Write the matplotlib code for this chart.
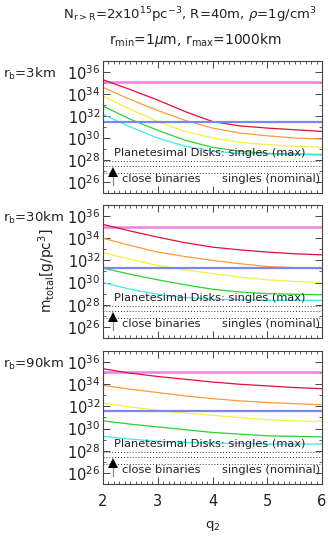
import numpy as np
import matplotlib
matplotlib.use("Agg")
import matplotlib.pyplot as plt
from matplotlib.ticker import MultipleLocator, FixedLocator, NullFormatter

# q2 sample points
q2 = [2.0, 2.5, 3.0, 3.5, 4.0, 4.5, 5.0, 5.5, 6.0]

# log10 of m_total for each panel (rb = 3, 30, 90 km)
panel_names = [r'r$_{\rm b}$=3km', r'r$_{\rm b}$=30km', r'r$_{\rm b}$=90km']

red = [
    [35.3, 34.4, 33.45, 32.4, 31.5, 31.1, 30.9, 30.75, 30.6],
    [35.25, 34.65, 34.1, 33.6, 33.2, 32.95, 32.75, 32.6, 32.5],
    [35.4, 35.0, 34.7, 34.45, 34.2, 34.0, 33.85, 33.7, 33.6],
]
orange = [
    [34.6, 33.5, 32.5, 31.6, 30.9, 30.45, 30.2, 30.0, 29.9],
    [34.0, 33.35, 32.75, 32.35, 32.0, 31.7, 31.45, 31.35, 31.25],
    [33.9, 33.55, 33.25, 32.95, 32.7, 32.5, 32.35, 32.25, 32.15],
]
yellow = [
    [33.8, 32.6, 31.5, 30.6, 30.0, 29.6, 29.4, 29.25, 29.15],
    [32.7, 32.1, 31.55, 31.15, 30.8, 30.5, 30.25, 30.1, 30.0],
    [32.3, 31.95, 31.65, 31.4, 31.2, 31.0, 30.8, 30.7, 30.65],
]
green = [
    [32.9, 31.7, 30.7, 29.8, 29.15, 28.8, 28.6, 28.55, 28.5],
    [31.3, 30.75, 30.25, 29.8, 29.4, 29.15, 29.0, 28.95, 28.9],
    [30.7, 30.4, 30.15, 29.9, 29.65, 29.5, 29.35, 29.3, 29.25],
]
cyan = [
    [32.15, 31.0, 30.0, 29.25, 28.8, 28.6, 28.55, 28.5, 28.45],
    [30.0, 29.4, 28.95, 28.65, 28.5, 28.45, 28.4, 28.4, 28.4],
    [29.3, 29.05, 28.85, 28.75, 28.7, 28.65, 28.6, 28.6, 28.6],
]
pink_level = [35.1, 35.03, 35.1]
blue_level = [31.45, 31.35, 31.6]

# dotted reference levels and annotations (log10)
dotted_levels = [27.9, 27.45, 26.8]
max_text_y = 28.65
nominal_text_y = 26.25
arrow_x = 2.19
arrow_tail = 25.7
arrow_head = 26.9

curve_colors = ['#e0103a', '#ff9a40', '#f4f040', '#30d030', '#40e8e8']

fig = plt.figure(figsize=(3.28, 5.41), dpi=100)
left, width = 103 / 328, 219 / 328
tops = [61, 205, 351]
bots = [193, 338, 484]

for i in range(3):
    ax = fig.add_axes([left, 1 - bots[i] / 541, width, (bots[i] - tops[i]) / 541])
    ax.set_yscale('log')
    ax.set_xlim(2, 6)
    ax.set_ylim(1e25, 1e37)

    ax.axhline(10 ** pink_level[i], color='#f080e8', lw=1.8)
    for c, series in zip(curve_colors, [red, orange, yellow, green, cyan]):
        ax.plot(q2, 10 ** np.array(series[i]), color=c, lw=0.9)
    ax.axhline(10 ** blue_level[i], color='#7b86f0', lw=1.6)

    for lv in dotted_levels:
        ax.axhline(10 ** lv, color='#333333', lw=0.7, ls=(0, (1, 2)))

    ax.text(2.2, 10 ** max_text_y, 'Planetesimal Disks: singles (max)',
            fontsize=8.2, va='center', color='#222222')
    ax.text(2.34, 10 ** nominal_text_y, 'close binaries',
            fontsize=8.2, va='center', color='#222222')
    ax.text(5.97, 10 ** nominal_text_y, 'singles (nominal)',
            fontsize=8.2, va='center', ha='right', color='#222222')
    ax.plot([arrow_x, arrow_x], [10 ** arrow_tail, 10 ** 26.6], color='#888888', lw=0.9)
    ax.plot(arrow_x, 10 ** arrow_head, marker='^', color='black', ms=7, mew=0)

    ax.yaxis.set_major_locator(FixedLocator([10.0 ** k for k in range(26, 37, 2)]))
    ax.yaxis.set_minor_locator(FixedLocator([10.0 ** k for k in range(25, 38, 2)]))
    ax.yaxis.set_minor_formatter(NullFormatter())
    ax.xaxis.set_major_locator(MultipleLocator(1))
    ax.xaxis.set_minor_locator(MultipleLocator(0.1))
    ax.tick_params(which='both', direction='in', top=True, right=True,
                   color='#444444', labelsize=10.5, labelcolor='#222222')
    ax.tick_params(which='major', length=5, width=0.7)
    ax.tick_params(which='minor', length=2.5, width=0.6)
    ax.tick_params(axis='y', pad=2)
    if i < 2:
        ax.tick_params(axis='x', labelbottom=False)
    else:
        ax.tick_params(axis='x', pad=7)
    for s in ax.spines.values():
        s.set_color('#444444')
        s.set_linewidth(0.8)

    ax.text(-0.457, 10 ** 35.85, panel_names[i], transform=ax.get_yaxis_transform(),
            fontsize=9.5, va='center', ha='left', color='#222222')

fig.text(0.58, 1 - 15 / 541, r'N$_{\rm r>R}$=2x10$^{15}$pc$^{-3}$, R=40m, $\rho$=1g/cm$^{3}$',
         ha='center', va='center', fontsize=9.5, color='#222222')
fig.text(0.595, 1 - 40 / 541, r'r$_{\rm min}$=1$\mu$m, r$_{\rm max}$=1000km',
         ha='center', va='center', fontsize=10, color='#222222')
fig.text(0.143, 1 - 271 / 541, r'm$_{\rm total}$[g/pc$^{3}$]', rotation=90,
         ha='center', va='center', fontsize=10, color='#222222')
fig.text(213 / 328, 1 - 526 / 541, r'q$_{2}$', ha='center', va='center',
         fontsize=9.5, color='#222222')

fig.savefig('out.png', dpi=100)
